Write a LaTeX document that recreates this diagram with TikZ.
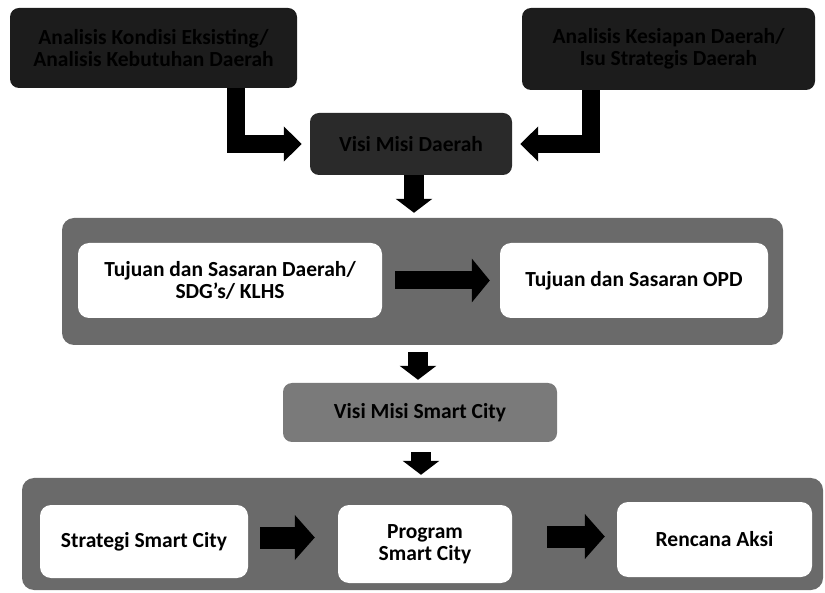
\documentclass[tikz,border=0pt]{standalone}
\usepackage{fontspec}
\setmainfont{Carlito}
\usetikzlibrary{arrows.meta}
\definecolor{topfill}{HTML}{1C1C1C}
\definecolor{hubfill}{HTML}{2A2A2A}
\definecolor{panelfill}{HTML}{6A6A6A}
\definecolor{scfill}{HTML}{7A7A7A}
\begin{document}
\begin{tikzpicture}[x=1pt,y=-1pt,
  lbl/.style={font=\bfseries\fontsize{21.5}{22}\selectfont, align=center, text=black, inner sep=0pt},
  darkbox/.style={lbl, rounded corners=9pt, fill=#1},
  panel/.style={rounded corners=12pt, fill=panelfill},
  whitebox/.style={lbl, rounded corners=11pt, fill=white},
  barrow/.style n args={3}{draw=black, line width=#1, line join=miter,
    -{Triangle[width=#2,length=#3]}}
]
\useasboundingbox (0,0) rectangle (825,593);

% top inputs and the regional vision box
\node[darkbox=topfill, minimum width=287pt, minimum height=80pt] (tl) at (153.5,48)
  {Analisis Kondisi Eksisting/\\Analisis Kebutuhan Daerah};
\node[darkbox=topfill, minimum width=293pt, minimum height=82pt] (tr) at (668.5,49)
  {Analisis Kesiapan Daerah/\\Isu Strategis Daerah};
\node[darkbox=hubfill, minimum width=202pt, minimum height=62pt] (vm) at (411,144)
  {Visi Misi Daerah};

% goals panel
\node[panel, minimum width=721pt, minimum height=127pt] (p1) at (422.5,281.5) {};
\node[whitebox, minimum width=304pt, minimum height=75pt] (t1) at (230,280.5)
  {Tujuan dan Sasaran Daerah/\\SDG's/ KLHS};
\node[whitebox, minimum width=268pt, minimum height=75pt] (t2) at (634,280.5)
  {Tujuan dan Sasaran OPD};

% smart city vision
\node[darkbox=scfill, minimum width=274pt, minimum height=59pt] (sc) at (420,412.5)
  {Visi Misi Smart City};

% strategy panel
\node[panel, minimum width=801pt, minimum height=112pt] (p2) at (422.5,534) {};
\node[whitebox, minimum width=208pt, minimum height=73pt] (s1) at (144,541.5)
  {Strategi Smart City};
\node[whitebox, minimum width=174pt, minimum height=78pt] (s2) at (425,544)
  {Program\\Smart City};
\node[whitebox, minimum width=195pt, minimum height=75pt] (s3) at (714.5,539.5)
  {Rencana Aksi};

% connectors
\draw[barrow={18pt}{34pt}{18pt}, shorten >=8pt] ([xshift=82.5pt]tl.south) |- (vm.west);
\draw[barrow={18pt}{34pt}{18pt}, shorten >=8pt] ([xshift=-77.5pt]tr.south) |- (vm.east);
\draw[barrow={20pt}{36pt}{14pt}, shorten >=5pt] ([xshift=3pt]vm.south) -- ([xshift=3pt]vm.south |- p1.north);
\draw[barrow={20pt}{36pt}{14pt}, shorten <=7pt, shorten >=3pt] ([xshift=-2pt]sc.north |- p1.south) -- ([xshift=-2pt]sc.north);
\draw[barrow={20pt}{36pt}{14pt}, shorten <=10pt, shorten >=3pt] ([xshift=1pt]sc.south) -- ([xshift=1pt]sc.south |- p2.north);
\draw[barrow={18pt}{43pt}{18pt}, shorten <=13pt, shorten >=10pt] (t1.east) -- (t2.west);
\draw[barrow={22pt}{44pt}{20pt}, shorten <=12pt, shorten >=23pt] ([yshift=4pt]s1.east) -- ([yshift=4pt]s1.east -| s2.west);
\draw[barrow={22pt}{44pt}{20pt}, shorten <=35pt, shorten >=12pt] ([yshift=3pt]s3.west -| s2.east) -- ([yshift=3pt]s3.west);
\end{tikzpicture}
\end{document}
